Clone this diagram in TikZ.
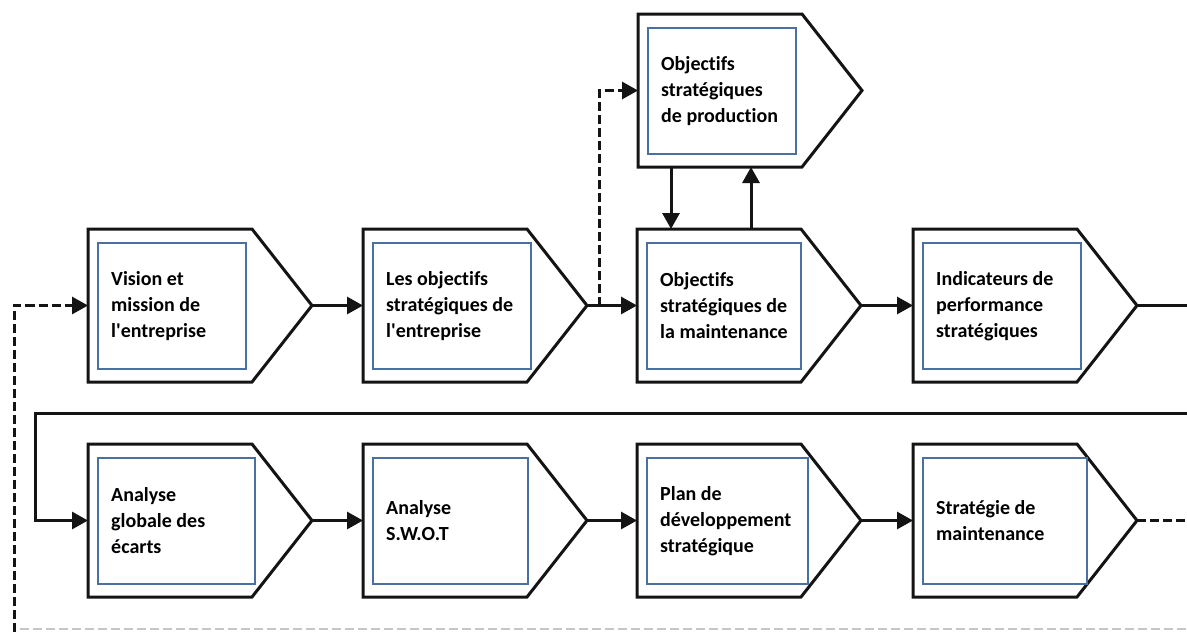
\documentclass[tikz,border=0pt]{standalone}
\usepackage{fontspec}
\setmainfont{Carlito}[Ligatures={NoCommon}]
\usetikzlibrary{arrows.meta,calc}
\definecolor{innerblue}{RGB}{74,112,160}
\definecolor{shapeblack}{RGB}{20,20,20}
\tikzset{
  outerbox/.style={draw=none, minimum width=164pt, minimum height=153pt, inner sep=0pt, outer sep=0pt},
  shapeline/.style={draw=shapeblack, line width=3pt, line join=miter, fill=white},
  innerbox/.style={draw=innerblue, line width=1.4pt, minimum height=126pt, inner sep=0pt, outer sep=0pt},
  labeltext/.style={align=left, inner sep=0pt, font=\bfseries\fontsize{20}{26}\selectfont, text=black},
  conn/.style={draw=shapeblack, line width=3pt, -{Triangle[length=16pt,width=17pt]}},
  plainline/.style={draw=shapeblack, line width=3pt},
  dconn/.style={draw=shapeblack, line width=3pt, dash pattern=on 9pt off 4pt, -{Triangle[length=16pt,width=17pt]}},
  dline/.style={draw=shapeblack, line width=3pt, dash pattern=on 9pt off 4pt},
  faintdash/.style={draw=gray!45, line width=1.6pt, dash pattern=on 9pt off 4pt}
}
\newcommand{\mystage}[5]{%
  \node[outerbox, anchor=north west] (#1) at (#2,#3) {};
  \coordinate (#1tip) at ($(#1.east)+(60,0)$);
  \draw[shapeline] (#1.north west) -- (#1.north east) -- (#1tip) -- (#1.south east) -- (#1.south west) -- cycle;
  \node[innerbox, minimum width=#4, anchor=north west] (#1in) at ($(#1.north west)+(10,14)$) {};
  \node[labeltext, anchor=west] (#1txt) at ($(#1in.west)+(13,0)$) {#5};
}
\begin{document}
\begin{tikzpicture}[x=1pt,y=-1pt]
\useasboundingbox[fill=white] (0,0) rectangle (1187,632);
\coordinate (redge) at (1187,0);
% top stage
\mystage{top}{638}{14}{148pt}{Objectifs\\stratégiques\\de production}
% row 1
\mystage{sa}{88}{229}{148pt}{Vision et\\mission de\\l\textquotesingle entreprise}
\mystage{sb}{363}{229}{158pt}{Les objectifs\\stratégiques de\\l\textquotesingle entreprise}
\mystage{sc}{637}{229}{154pt}{Objectifs\\stratégiques de\\la maintenance}
\mystage{sd}{913}{229}{158pt}{Indicateurs de\\performance\\stratégiques}
% row 2
\mystage{qa}{88}{444}{157pt}{Analyse\\globale des\\écarts}
\mystage{qb}{363}{444}{155pt}{Analyse\\S.W.O.T}
\mystage{qc}{637}{444}{161pt}{Plan de\\développement\\stratégique}
\mystage{qd}{913}{444}{164pt}{Stratégie de\\maintenance}
% row 1 connectors
\draw[conn] (satip) -- (sb.west);
\draw[conn] (sbtip) -- (sc.west);
\draw[conn] (sctip) -- (sd.west);
\coordinate (jb) at ($(sbtip)!0.24!(sc.west)$);
\draw[dconn] (jb) |- (top.west);
\draw[conn] ([xshift=33pt]top.south west) -- ([xshift=33pt]top.south west |- sc.north);
\draw[conn] ([xshift=114pt]sc.north west) -- ([xshift=114pt]sc.north west |- top.south);
\draw[plainline] (sdtip) -- (sdtip -| redge);
% return line
\coordinate (ra) at (1187,413);
\coordinate (rb) at (35,413);
\draw[conn] (ra) -- (rb) |- (qa.west);
% row 2 connectors
\draw[conn] (qatip) -- (qb.west);
\draw[conn] (qbtip) -- (qc.west);
\draw[conn] (qctip) -- (qd.west);
\draw[dline] (qdtip) -- (qdtip -| redge);
% feedback
\coordinate (fa) at (20,629);
\coordinate (fb) at (1187,629);
\draw[faintdash] (fa) -- (fb);
\coordinate (fc) at (14,632);
\draw[dconn] (fc) |- (sa.west);
\end{tikzpicture}
\end{document}
